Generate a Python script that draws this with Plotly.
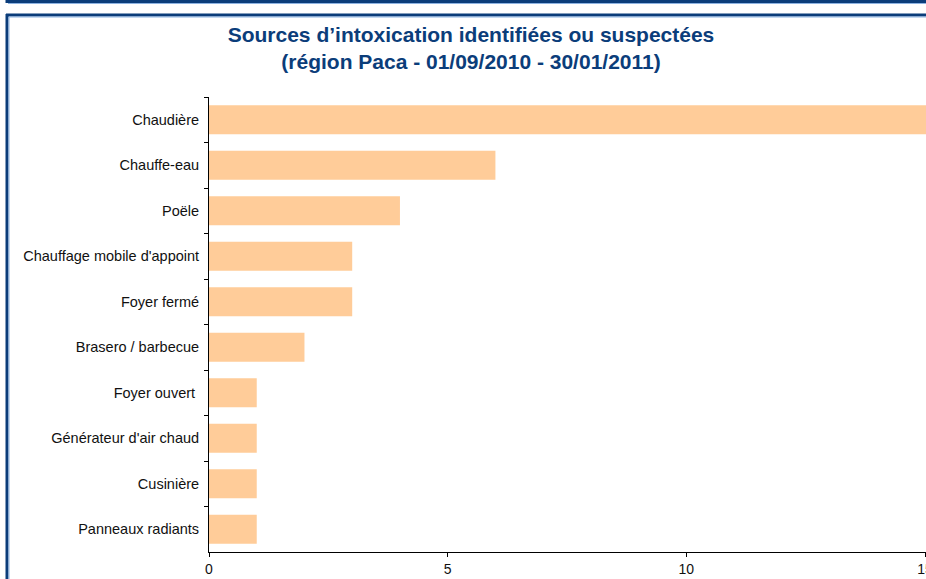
import plotly.graph_objects as go

categories = ["Chaudière", "Chauffe-eau", "Poële", "Chauffage mobile d'appoint",
              "Foyer fermé", "Brasero / barbecue", "Foyer ouvert ",
              "Générateur d'air chaud", "Cusinière", "Panneaux radiants"]
values = [16, 6, 4, 3, 3, 2, 1, 1, 1, 1]
x_ticks = [0, 5, 10, 15]

title_text = ("Sources d’intoxication identifiées ou suspectées<br>"
              "(région Paca - 01/09/2010 - 30/01/2011)")

W, H = 926, 579
L, R, T, B = 209, 0, 97, 27
pw, ph = W - L - R, H - T - B


def px(x):
    return (x - L) / pw


def py(y):
    return (H - B - y) / ph


DARK = "#0B3D7A"
LIGHT = "#8DB3E2"

fig = go.Figure(go.Bar(
    y=categories, x=values, orientation="h",
    marker=dict(color="#FFCC99", line=dict(width=0)),
))

shapes = []
# upper box bottom edge
shapes.append(dict(type="line", xref="paper", yref="paper", x0=px(6), x1=px(940), y0=py(1.5), y1=py(1.5),
                   line=dict(color=DARK, width=3)))
shapes.append(dict(type="line", xref="paper", yref="paper", x0=px(8), x1=px(940), y0=py(3.5), y1=py(3.5),
                   line=dict(color=LIGHT, width=1)))
shapes.append(dict(type="line", xref="paper", yref="paper", x0=px(7), x1=px(7), y0=py(-5), y1=py(3),
                   line=dict(color=DARK, width=3)))
# lower box top and left edges
shapes.append(dict(type="line", xref="paper", yref="paper", x0=px(6), x1=px(940), y0=py(15), y1=py(15),
                   line=dict(color=DARK, width=3)))
shapes.append(dict(type="line", xref="paper", yref="paper", x0=px(9), x1=px(940), y0=py(17), y1=py(17),
                   line=dict(color=LIGHT, width=1)))
shapes.append(dict(type="line", xref="paper", yref="paper", x0=px(7), x1=px(7), y0=py(14), y1=py(590),
                   line=dict(color=DARK, width=3)))
shapes.append(dict(type="line", xref="paper", yref="paper", x0=px(9), x1=px(9), y0=py(17), y1=py(590),
                   line=dict(color=LIGHT, width=1)))

fig.update_layout(
    width=W, height=H,
    margin=dict(l=L, r=R, t=T, b=B, pad=0, autoexpand=False),
    paper_bgcolor="white", plot_bgcolor="white",
    bargap=0.36,
    showlegend=False,
    font=dict(family="Liberation Sans, Arial, sans-serif", size=14, color="#111111"),
    title=dict(text=title_text, x=471 / W, xref="container", xanchor="center",
               y=1 - 42 / H, yref="container", yanchor="top",
               font=dict(family="Liberation Sans, Arial, sans-serif", size=21, color=DARK,
                         weight="bold")),
    shapes=shapes,
)

fig.update_xaxes(range=[0, 15.02], tickvals=x_ticks, ticktext=[str(v) for v in x_ticks],
                 showgrid=False, zeroline=False, showline=True, linecolor="black", linewidth=1,
                 ticks="outside", ticklen=4, tickcolor="black", ticklabeloverflow="allow",
                 automargin=False, tickfont=dict(size=14, color="#111111"))
fig.update_yaxes(autorange="reversed", showgrid=False, showline=True, linecolor="black", linewidth=1,
                 ticks="outside", ticklen=4, tickcolor="black", tickson="boundaries", automargin=False,
                 ticklabelstandoff=6, tickfont=dict(size=14.5, color="#111111"))

fig.write_html("out.html", config={"displayModeBar": False},
               post_script="document.body.style.margin='0';document.body.style.overflow='hidden';")
